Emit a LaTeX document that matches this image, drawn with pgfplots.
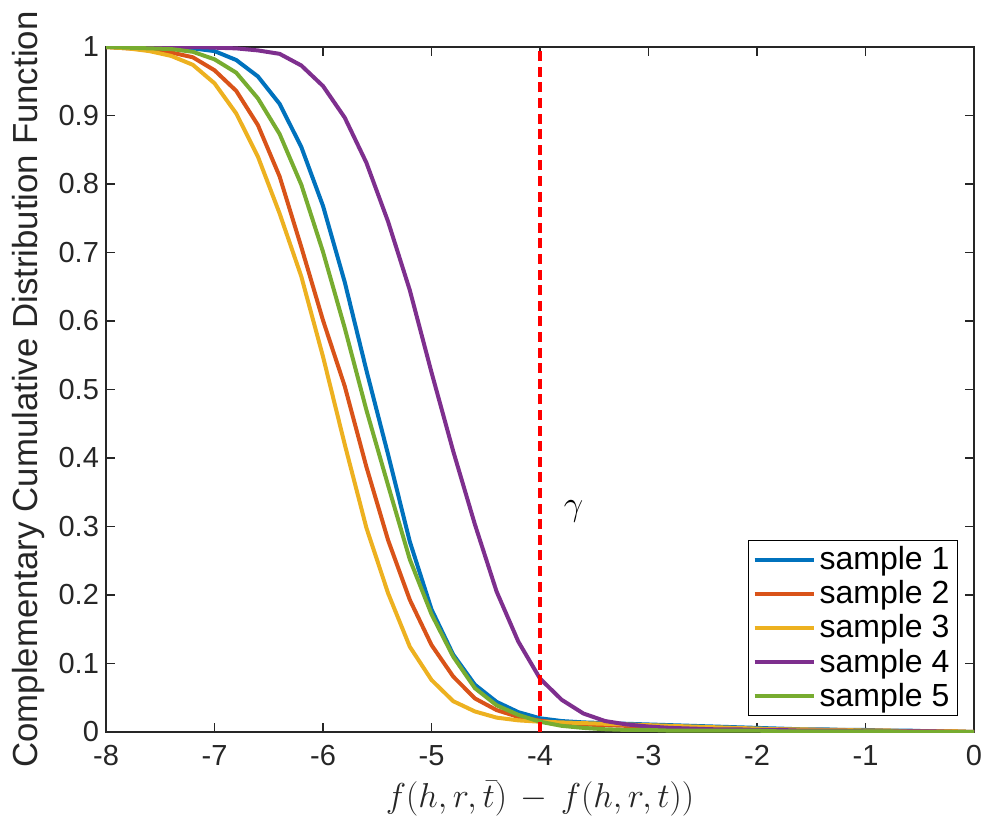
\documentclass[border=0pt]{standalone}
\usepackage{fontspec}
\setmainfont{Liberation Sans}
\usepackage{pgfplots}
\pgfplotsset{compat=1.18}
\definecolor{c1}{rgb}{0,0.447,0.741}
\definecolor{c2}{rgb}{0.85,0.325,0.098}
\definecolor{c3}{rgb}{0.929,0.694,0.125}
\definecolor{c4}{rgb}{0.494,0.184,0.556}
\definecolor{c5}{rgb}{0.466,0.674,0.188}
\definecolor{axgray}{rgb}{0.15,0.15,0.15}
\begin{document}
\begin{tikzpicture}
\begin{axis}[
  scale only axis, width=434pt, height=342.5pt,
  xmin=-8, xmax=0, ymin=0, ymax=1,
  xtick={-8,-7,-6,-5,-4,-3,-2,-1,0},
  xticklabels={-8,-7,-6,-5,-4,-3,-2,-1,0},
  ytick={0,0.1,0.2,0.3,0.4,0.5,0.6,0.7,0.8,0.9,1},
  yticklabels={0,0.1,0.2,0.3,0.4,0.5,0.6,0.7,0.8,0.9,1},
  tick align=inside, major tick length=4.5pt,
  axis line style={axgray, line width=0.6pt},
  tick style={axgray, line width=0.6pt},
  ticklabel style={font=\fontsize{14.5}{17}\selectfont, text=axgray},
  xticklabel style={yshift=-3pt},
  xlabel={$f(h,r,\bar{t}) \mathbin{\,-\,} f(h,r,t))$},
  xlabel style={font=\fontsize{17}{20}\selectfont, text=axgray, yshift=-1pt},
  ylabel={Complementary Cumulative Distribution Function},
  ylabel style={font=\fontsize{17.4}{20}\selectfont, text=axgray},
  legend style={at={(0.9816,0.0234)}, anchor=south east, draw=black, line width=0.6pt,
    font=\fontsize{16}{18}\selectfont, inner xsep=2pt, inner ysep=1pt, row sep=0pt},
  legend cell align=left,
  legend image code/.code={\draw[#1, line width=2pt] (0pt,0pt) -- (29.5pt,0pt);},
  every axis plot/.append style={line width=2pt, line join=round},
]
\addplot[c1] coordinates {
(-8,1.000) (-7.8,1.000) (-7.6,0.9995) (-7.4,0.999) (-7.2,0.998) (-7.0,0.994)
(-6.8,0.981) (-6.6,0.957) (-6.4,0.917) (-6.2,0.854) (-6.0,0.768) (-5.8,0.657)
(-5.6,0.528) (-5.4,0.405) (-5.2,0.278) (-5.0,0.179) (-4.8,0.113) (-4.6,0.069)
(-4.4,0.044) (-4.2,0.029) (-4.0,0.020) (-3.8,0.016) (-3.6,0.014) (-3.4,0.013)
(-3.2,0.012) (-3.0,0.011) (-2.8,0.010) (-2.6,0.009) (-2.4,0.008) (-2.2,0.007)
(-2.0,0.006) (-1.8,0.005) (-1.6,0.004) (-1.4,0.004) (-1.2,0.003) (-1.0,0.003)
(-0.8,0.002) (-0.6,0.002) (-0.4,0.001) (-0.2,0.001) (0,0.000)};
\addlegendentry{sample 1}
\addplot[c2] coordinates {
(-8,1.000) (-7.8,0.998) (-7.6,0.996) (-7.4,0.992) (-7.2,0.985) (-7.0,0.966)
(-6.8,0.936) (-6.6,0.886) (-6.4,0.811) (-6.2,0.708) (-6.0,0.601) (-5.8,0.505)
(-5.6,0.387) (-5.4,0.280) (-5.2,0.193) (-5.0,0.127) (-4.8,0.081) (-4.6,0.049)
(-4.4,0.032) (-4.2,0.022) (-4.0,0.0165) (-3.8,0.013) (-3.6,0.011) (-3.4,0.010)
(-3.2,0.009) (-3.0,0.008) (-2.8,0.007) (-2.6,0.006) (-2.4,0.005) (-2.2,0.005)
(-2.0,0.004) (-1.8,0.004) (-1.6,0.003) (-1.4,0.003) (-1.2,0.002) (-1.0,0.002)
(-0.8,0.002) (-0.6,0.001) (-0.4,0.001) (-0.2,0.001) (0,0.000)};
\addlegendentry{sample 2}
\addplot[c3] coordinates {
(-8,1.000) (-7.8,0.998) (-7.6,0.994) (-7.4,0.987) (-7.2,0.974) (-7.0,0.947)
(-6.8,0.903) (-6.6,0.840) (-6.4,0.757) (-6.2,0.665) (-6.0,0.548) (-5.8,0.420)
(-5.6,0.298) (-5.4,0.2025) (-5.2,0.1245) (-5.0,0.076) (-4.8,0.045) (-4.6,0.030)
(-4.4,0.021) (-4.2,0.017) (-4.0,0.015) (-3.8,0.014) (-3.6,0.013) (-3.4,0.012)
(-3.2,0.011) (-3.0,0.010) (-2.8,0.009) (-2.6,0.008) (-2.4,0.007) (-2.2,0.006)
(-2.0,0.005) (-1.8,0.004) (-1.6,0.004) (-1.4,0.003) (-1.2,0.003) (-1.0,0.002)
(-0.8,0.002) (-0.6,0.001) (-0.4,0.001) (-0.2,0.001) (0,0.000)};
\addlegendentry{sample 3}
\addplot[c4] coordinates {
(-8,1.000) (-7.8,1.000) (-7.6,1.000) (-7.4,1.000) (-7.2,1.000) (-7.0,0.999)
(-6.8,0.998) (-6.6,0.995) (-6.4,0.990) (-6.2,0.973) (-6.0,0.943) (-5.8,0.897)
(-5.6,0.831) (-5.4,0.745) (-5.2,0.645) (-5.0,0.525) (-4.8,0.410) (-4.6,0.303)
(-4.4,0.205) (-4.2,0.132) (-4.0,0.078) (-3.8,0.047) (-3.6,0.027) (-3.4,0.016)
(-3.2,0.011) (-3.0,0.008) (-2.8,0.006) (-2.6,0.005) (-2.4,0.004) (-2.2,0.004)
(-2.0,0.003) (-1.8,0.003) (-1.6,0.002) (-1.4,0.002) (-1.2,0.002) (-1.0,0.001)
(-0.8,0.001) (-0.6,0.001) (-0.4,0.001) (-0.2,0.000) (0,0.000)};
\addlegendentry{sample 4}
\addplot[c5] coordinates {
(-8,1.000) (-7.8,0.999) (-7.6,0.998) (-7.4,0.997) (-7.2,0.993) (-7.0,0.982)
(-6.8,0.9625) (-6.6,0.925) (-6.4,0.873) (-6.2,0.799) (-6.0,0.701) (-5.8,0.590)
(-5.6,0.470) (-5.4,0.360) (-5.2,0.252) (-5.0,0.172) (-4.8,0.110) (-4.6,0.064)
(-4.4,0.039) (-4.2,0.025) (-4.0,0.015) (-3.8,0.009) (-3.6,0.006) (-3.4,0.004)
(-3.2,0.003) (-3.0,0.003) (-2.8,0.002) (-2.6,0.002) (-2.4,0.002) (-2.2,0.002)
(-2.0,0.002) (-1.8,0.001) (-1.6,0.001) (-1.4,0.001) (-1.2,0.001) (-1.0,0.001)
(-0.8,0.001) (-0.6,0.000) (-0.4,0.000) (-0.2,0.000) (0,0.000)};
\addlegendentry{sample 5}
\addplot[red, line width=2pt, dash pattern=on 5pt off 2.8pt, forget plot] coordinates {(-4,0) (-4,1)};
\node[font=\fontsize{17}{20}\selectfont] at (axis cs:-3.69,0.322) {$\gamma$};
\end{axis}
\pgfresetboundingbox
\path ([xshift=-53pt,yshift=-46pt]current axis.south west) rectangle ([xshift=9pt,yshift=23.5pt]current axis.north east);
\end{tikzpicture}
\end{document}
